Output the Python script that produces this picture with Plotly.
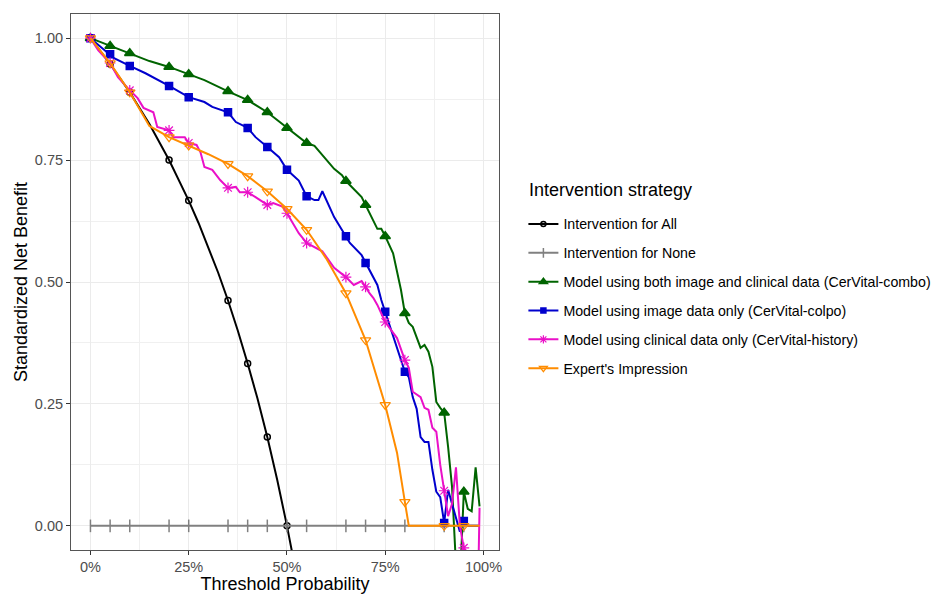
import plotly.graph_objects as go
import numpy as np

# ---------------- data ----------------
marker_thresholds = [0.00, 0.05, 0.10, 0.20, 0.25, 0.35, 0.40, 0.45, 0.50,
                     0.55, 0.65, 0.70, 0.75, 0.80, 0.90, 0.95]

all_x = [0.00, 0.05, 0.10, 0.15, 0.20, 0.25, 0.275, 0.30, 0.325, 0.35, 0.375,
         0.40, 0.425, 0.45, 0.475, 0.50, 0.52]
all_y = [1.000, 0.947, 0.889, 0.824, 0.750, 0.667, 0.621, 0.571, 0.519, 0.462,
         0.400, 0.333, 0.261, 0.182, 0.095, 0.000, -0.083]

none_x = [0.00, 0.05, 0.10, 0.20, 0.25, 0.35, 0.40, 0.45, 0.50, 0.55, 0.65,
          0.70, 0.75, 0.80, 0.90, 0.95, 0.99]
none_y = [0.0] * 17

combo_x = [0.00, 0.05, 0.10, 0.15, 0.20, 0.25, 0.29, 0.35, 0.40, 0.45, 0.50,
           0.55, 0.57, 0.62, 0.64, 0.65, 0.69, 0.70, 0.73, 0.74, 0.75, 0.77,
           0.79, 0.80, 0.81, 0.82, 0.84, 0.85, 0.86, 0.87, 0.88, 0.89, 0.90,
           0.91, 0.92, 0.93, 0.94, 0.95, 0.96, 0.97, 0.98, 0.99]
combo_y = [1.000, 0.984, 0.969, 0.953, 0.941, 0.926, 0.914, 0.891, 0.873, 0.848,
           0.816, 0.785, 0.779, 0.732, 0.719, 0.707, 0.674, 0.658, 0.609, 0.609,
           0.594, 0.559, 0.484, 0.436, 0.416, 0.408, 0.365, 0.371, 0.357, 0.326,
           0.254, 0.242, 0.232, 0.162, 0.080, -0.080, -0.120, 0.070, 0.035,
           0.030, 0.120, 0.040]

colpo_x = [0.00, 0.05, 0.06, 0.10, 0.14, 0.20, 0.25, 0.29, 0.31, 0.35, 0.37,
           0.40, 0.42, 0.45, 0.48, 0.50, 0.53, 0.55, 0.57, 0.58, 0.59, 0.62,
           0.65, 0.66, 0.69, 0.70, 0.73, 0.74, 0.75, 0.77, 0.79, 0.80, 0.81,
           0.82, 0.83, 0.84, 0.85, 0.86, 0.87, 0.88, 0.89, 0.90, 0.91, 0.92,
           0.93, 0.94, 0.95, 0.96, 0.97, 0.98, 0.99]
colpo_y = [1.000, 0.967, 0.959, 0.943, 0.928, 0.902, 0.879, 0.869, 0.859, 0.848,
           0.828, 0.816, 0.797, 0.777, 0.756, 0.730, 0.708, 0.676, 0.668, 0.668,
           0.686, 0.633, 0.594, 0.580, 0.555, 0.539, 0.494, 0.463, 0.439, 0.391,
           0.340, 0.316, 0.305, 0.264, 0.240, 0.182, 0.172, 0.172, 0.115, 0.070,
           0.059, 0.006, 0.074, 0.045, 0.020, -0.012, 0.010, 0.000, 0.000,
           0.000, 0.000]

history_x = [0.00, 0.02, 0.05, 0.07, 0.10, 0.12, 0.135, 0.16, 0.17, 0.20, 0.21,
             0.24, 0.25, 0.27, 0.28, 0.29, 0.31, 0.32, 0.33, 0.35, 0.37, 0.38,
             0.40, 0.42, 0.45, 0.465, 0.49, 0.50, 0.51, 0.53, 0.55, 0.56, 0.575,
             0.59, 0.62, 0.65, 0.67, 0.69, 0.70, 0.71, 0.72, 0.73, 0.75, 0.77,
             0.78, 0.80, 0.81, 0.82, 0.84, 0.85, 0.86, 0.87, 0.88, 0.89, 0.90,
             0.91, 0.92, 0.93, 0.94, 0.95, 0.96, 0.97, 0.98, 0.99]
history_y = [1.000, 0.975, 0.949, 0.920, 0.893, 0.877, 0.857, 0.848, 0.818, 0.811,
             0.797, 0.797, 0.785, 0.781, 0.766, 0.736, 0.730, 0.719, 0.709, 0.693,
             0.695, 0.684, 0.684, 0.674, 0.658, 0.662, 0.654, 0.641, 0.627, 0.600,
             0.580, 0.576, 0.570, 0.563, 0.529, 0.510, 0.494, 0.502, 0.490, 0.477,
             0.467, 0.453, 0.418, 0.395, 0.385, 0.340, 0.324, 0.275, 0.264, 0.242,
             0.238, 0.201, 0.193, 0.125, 0.072, 0.020, 0.045, 0.120, 0.000, -0.045,
             -0.200, -0.250, -0.400, 0.037]

expert_x = [0.00, 0.05, 0.10, 0.15, 0.20, 0.25, 0.30, 0.35, 0.40, 0.45, 0.50,
            0.55, 0.60, 0.65, 0.70, 0.75, 0.78, 0.80, 0.81, 0.90, 0.95, 0.99]
expert_y = [1.000, 0.949, 0.889, 0.820, 0.797, 0.780, 0.762, 0.742, 0.717, 0.686,
            0.650, 0.607, 0.548, 0.477, 0.381, 0.248, 0.150, 0.049, 0.000, 0.000,
            0.000, 0.000]

x_tick_vals = [0, 0.25, 0.5, 0.75, 1.0]
x_tick_text = ["0%", "25%", "50%", "75%", "100%"]
y_tick_vals = [0, 0.25, 0.5, 0.75, 1.0]
y_tick_text = ["0.00", "0.25", "0.50", "0.75", "1.00"]

series = [
    ("Intervention for All", all_x, all_y, "#000000", "circle-open", 6, 1.5),
    ("Intervention for None", none_x, none_y, "#808080", "line-ns-open", 9, 1.5),
    ("Model using both image and clinical data (CerVital-combo)", combo_x, combo_y,
     "#006400", "triangle-up", 9, 1.5),
    ("Model using image data only (CerVital-colpo)", colpo_x, colpo_y,
     "#0000CD", "square", 7, 1.5),
    ("Model using clinical data only (CerVital-history)", history_x, history_y,
     "#EA10C8", "asterisk-open", 9, 1.2),
    ("Expert's Impression", expert_x, expert_y, "#FF8C00", "triangle-down-open", 9, 1.2),
]

FONT = "Liberation Sans, Arial, sans-serif"

fig = go.Figure()
for i, (name, xs, ys, color, sym, msize, mlw) in enumerate(series):
    xs_a = np.array(xs)
    ys_a = np.array(ys)
    mask = np.isin(np.round(xs_a, 3), np.round(marker_thresholds, 3))
    grp = "g%d" % i
    fig.add_trace(go.Scatter(
        x=xs_a, y=ys_a, mode="lines", line=dict(color=color, width=2),
        legendgroup=grp, showlegend=False, hoverinfo="skip"))
    fig.add_trace(go.Scatter(
        x=xs_a[mask], y=ys_a[mask], mode="markers",
        marker=dict(symbol=sym, size=msize, color=color,
                    line=dict(color=color, width=mlw)),
        legendgroup=grp, showlegend=False))
    fig.add_trace(go.Scatter(
        x=[None], y=[None], mode="lines+markers", name=name,
        line=dict(color=color, width=2),
        marker=dict(symbol=sym, size=max(msize - 2, 5), color=color,
                    line=dict(color=color, width=mlw)),
        legendgroup=grp, showlegend=True))

axis_common = dict(
    automargin=False,
    showgrid=True, gridcolor="#ebebeb", gridwidth=1.1,
    zeroline=False, showline=True, linecolor="#555555", linewidth=1, mirror=True,
    ticks="outside", ticklen=4, tickcolor="#333333", tickwidth=1,
    tickfont=dict(family=FONT, size=14.5, color="#4d4d4d"),
    minor=dict(dtick=0.125, tick0=0, showgrid=True, gridcolor="#f0f0f0",
               gridwidth=0.8, ticklen=0),
)

fig.update_xaxes(
    range=[-0.0495, 1.0395], tickvals=x_tick_vals, ticktext=x_tick_text,
    title=dict(text="Threshold Probability",
               font=dict(family=FONT, size=18, color="#000000"), standoff=4),
    **axis_common)
fig.update_yaxes(
    range=[-0.0495, 1.0495], tickvals=y_tick_vals, ticktext=y_tick_text,
    title=dict(text="Standardized Net Benefit",
               font=dict(family=FONT, size=18, color="#000000"), standoff=2),
    **axis_common)

fig.update_layout(
    width=936, height=586,
    margin=dict(l=63, r=445, t=6, b=44, autoexpand=False),
    paper_bgcolor="white", plot_bgcolor="white",
    font=dict(family=FONT, size=14.2, color="#000000"),
    showlegend=True,
    legend=dict(
        x=1.0570, y=0.6377, xanchor="left", yanchor="top",
        font=dict(family=FONT, size=14.2, color="#000000"),
        tracegroupgap=7.4, bgcolor="rgba(0,0,0,0)",
    ),
    annotations=[dict(
        text="Intervention strategy", xref="paper", yref="paper",
        x=(527 - 71) / 428, y=(550 - 190) / 536, xanchor="left", yanchor="middle",
        showarrow=False, font=dict(family=FONT, size=18, color="#000000"))],
)

fig.write_html("out.html")
